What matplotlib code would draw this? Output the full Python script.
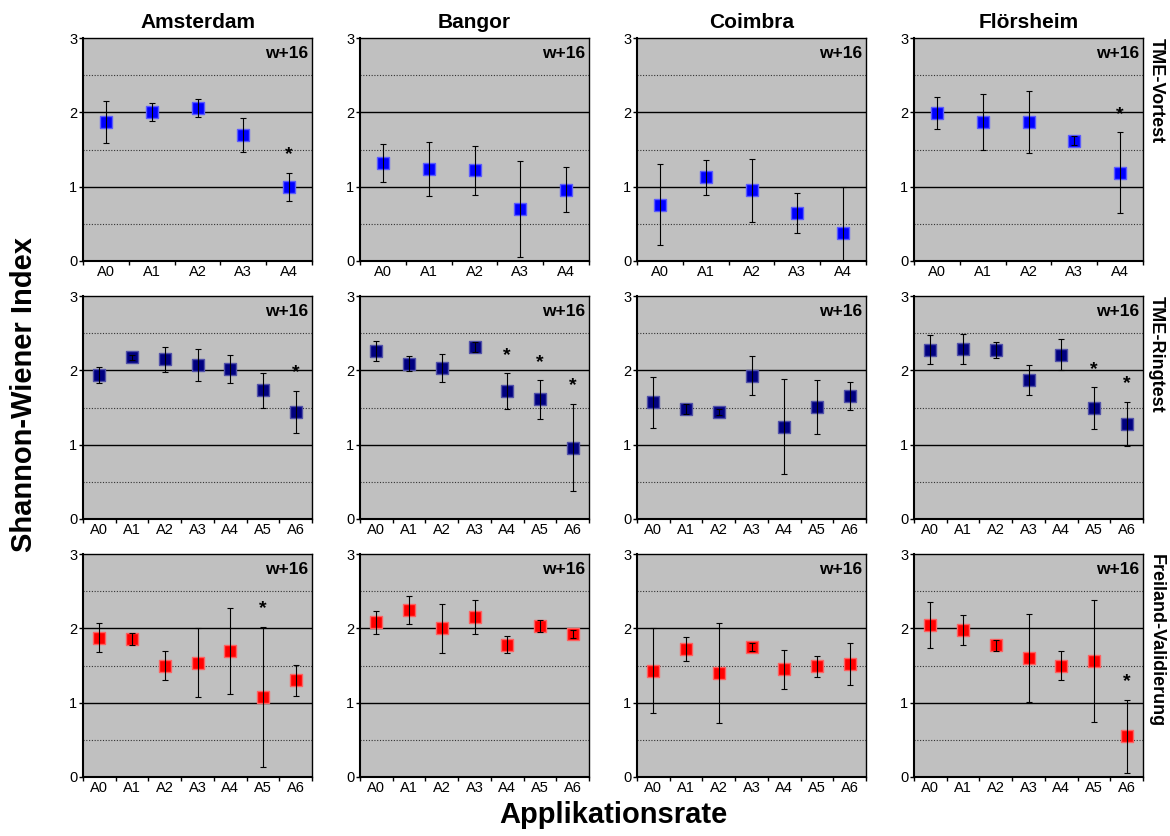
import matplotlib
matplotlib.use("Agg")
from matplotlib import pyplot as plt
import numpy as np

plt.rcParams['font.family'] = ['Liberation Sans', 'DejaVu Sans']

sites = ['Amsterdam', 'Bangor', 'Coimbra', 'Flörsheim']
tests = ['TME-Vortest', 'TME-Ringtest', 'Freiland-Validierung']
cats_short = ['A0', 'A1', 'A2', 'A3', 'A4']
cats_long = ['A0', 'A1', 'A2', 'A3', 'A4', 'A5', 'A6']

# TME-Vortest (blau), Mittelwert und Fehler je Standort
vortest_mean = [[1.87, 2.00, 2.06, 1.69, 1.00],
                [1.32, 1.24, 1.22, 0.70, 0.96],
                [0.755, 1.125, 0.95, 0.65, 0.37],
                [1.99, 1.87, 1.87, 1.62, 1.19]]
vortest_err = [[0.28, 0.12, 0.12, 0.23, 0.19],
               [0.26, 0.36, 0.33, 0.65, 0.30],
               [0.545, 0.24, 0.42, 0.27, 0.63],
               [0.21, 0.37, 0.42, 0.06, 0.54]]
vortest_sig = [[4], [], [], [4]]

# TME-Ringtest (dunkelblau)
ring_mean = [[1.94, 2.175, 2.15, 2.07, 2.02, 1.73, 1.44],
             [2.26, 2.09, 2.03, 2.31, 1.72, 1.61, 0.96],
             [1.57, 1.48, 1.44, 1.93, 1.24, 1.51, 1.65],
             [2.28, 2.29, 2.27, 1.87, 2.21, 1.49, 1.28]]
ring_err = [[0.11, 0.03, 0.17, 0.22, 0.19, 0.24, 0.285],
            [0.13, 0.10, 0.19, 0.07, 0.24, 0.26, 0.59],
            [0.34, 0.065, 0.04, 0.26, 0.64, 0.365, 0.19],
            [0.20, 0.20, 0.11, 0.20, 0.21, 0.28, 0.30]]
ring_sig = [[6], [4, 5, 6], [], [5, 6]]

# Freiland-Validierung (rot)
feld_mean = [[1.876, 1.86, 1.50, 1.54, 1.70, 1.08, 1.30],
             [2.08, 2.25, 2.00, 2.15, 1.78, 2.03, 1.92],
             [1.43, 1.72, 1.40, 1.75, 1.45, 1.49, 1.52],
             [2.04, 1.98, 1.77, 1.60, 1.50, 1.56, 0.55]]
feld_err = [[0.20, 0.08, 0.20, 0.46, 0.58, 0.94, 0.21],
            [0.15, 0.19, 0.33, 0.23, 0.115, 0.08, 0.055],
            [0.57, 0.165, 0.67, 0.055, 0.26, 0.14, 0.28],
            [0.31, 0.20, 0.075, 0.59, 0.19, 0.82, 0.49]]
feld_sig = [[5], [], [], [6]]

rows = [(cats_short, vortest_mean, vortest_err, vortest_sig, '#0000FF', '#5A5AFF'),
        (cats_long, ring_mean, ring_err, ring_sig, '#000080', '#5050A8'),
        (cats_long, feld_mean, feld_err, feld_sig, '#FF0000', '#FF6060')]

W, H = 1170, 836
fig = plt.figure(figsize=(W / 100, H / 100), dpi=100)

col_left = [83, 360, 637, 914]
col_w = 229
row_top = [38, 296, 554]
row_h = 223

for r, (cats, means, errs, sigs, col, edge) in enumerate(rows):
    for c in range(4):
        ax = fig.add_axes([col_left[c] / W, 1 - (row_top[r] + row_h) / H,
                           col_w / W, row_h / H])
        ax.set_facecolor('#C0C0C0')
        x = np.arange(len(cats))
        m = np.array(means[c])
        e = np.array(errs[c])
        for yv in [1, 2]:
            ax.axhline(yv, color='black', lw=1.0, zorder=1)
        for yv in [0.5, 1.5, 2.5]:
            ax.axhline(yv, color='#333333', lw=0.8, ls=(0, (1, 1.5)), zorder=1)
        ax.plot(x, m, 's', color=col, mec=edge, mew=1.0, ms=9, zorder=3)
        ax.errorbar(x, m, yerr=e, fmt='none', ecolor='black', elinewidth=0.8,
                    capsize=2.5, capthick=0.8, zorder=4)
        for i in sigs[c]:
            ax.text(x[i], m[i] + e[i] + 0.24, '*', ha='center', va='center',
                    fontsize=14, fontweight='bold')
        ax.set_xlim(-0.5, len(cats) - 0.5)
        ax.set_ylim(0, 3)
        ax.set_yticks([0, 1, 2, 3])
        ax.set_xticks(x)
        ax.set_xticklabels(cats)
        ax.set_xticks(np.arange(len(cats) + 1) - 0.5, minor=True)
        ax.tick_params(axis='x', which='major', length=0, labelsize=10.5, pad=3)
        ax.tick_params(axis='x', which='minor', length=3, width=1, direction='out')
        ax.tick_params(axis='y', length=3, width=1, direction='out', labelsize=10.5, pad=1)
        for sp in ax.spines.values():
            sp.set_color('black')
            sp.set_linewidth(1.0)
        ax.spines['left'].set_linewidth(1.5)
        ax.spines['bottom'].set_linewidth(1.5)
        ax.text(0.985, 0.965, 'w+16', transform=ax.transAxes, ha='right', va='top',
                fontsize=12.5, fontweight='bold')
        if r == 0:
            ax.set_title(sites[c], fontsize=15, fontweight='bold', pad=7)
        if c == 3:
            ax.text(1.058, 1.0, tests[r], transform=ax.transAxes, rotation=-90,
                    ha='center', va='top', fontsize=13, fontweight='bold')

fig.text(24 / W, 1 - 395 / H, 'Shannon-Wiener Index', rotation=90, ha='center',
         va='center', fontsize=21, fontweight='bold')
fig.text(613 / W, 1 - 815 / H, 'Applikationsrate', ha='center', va='center',
         fontsize=21, fontweight='bold')

fig.savefig('out.png', dpi=100, facecolor='white')
